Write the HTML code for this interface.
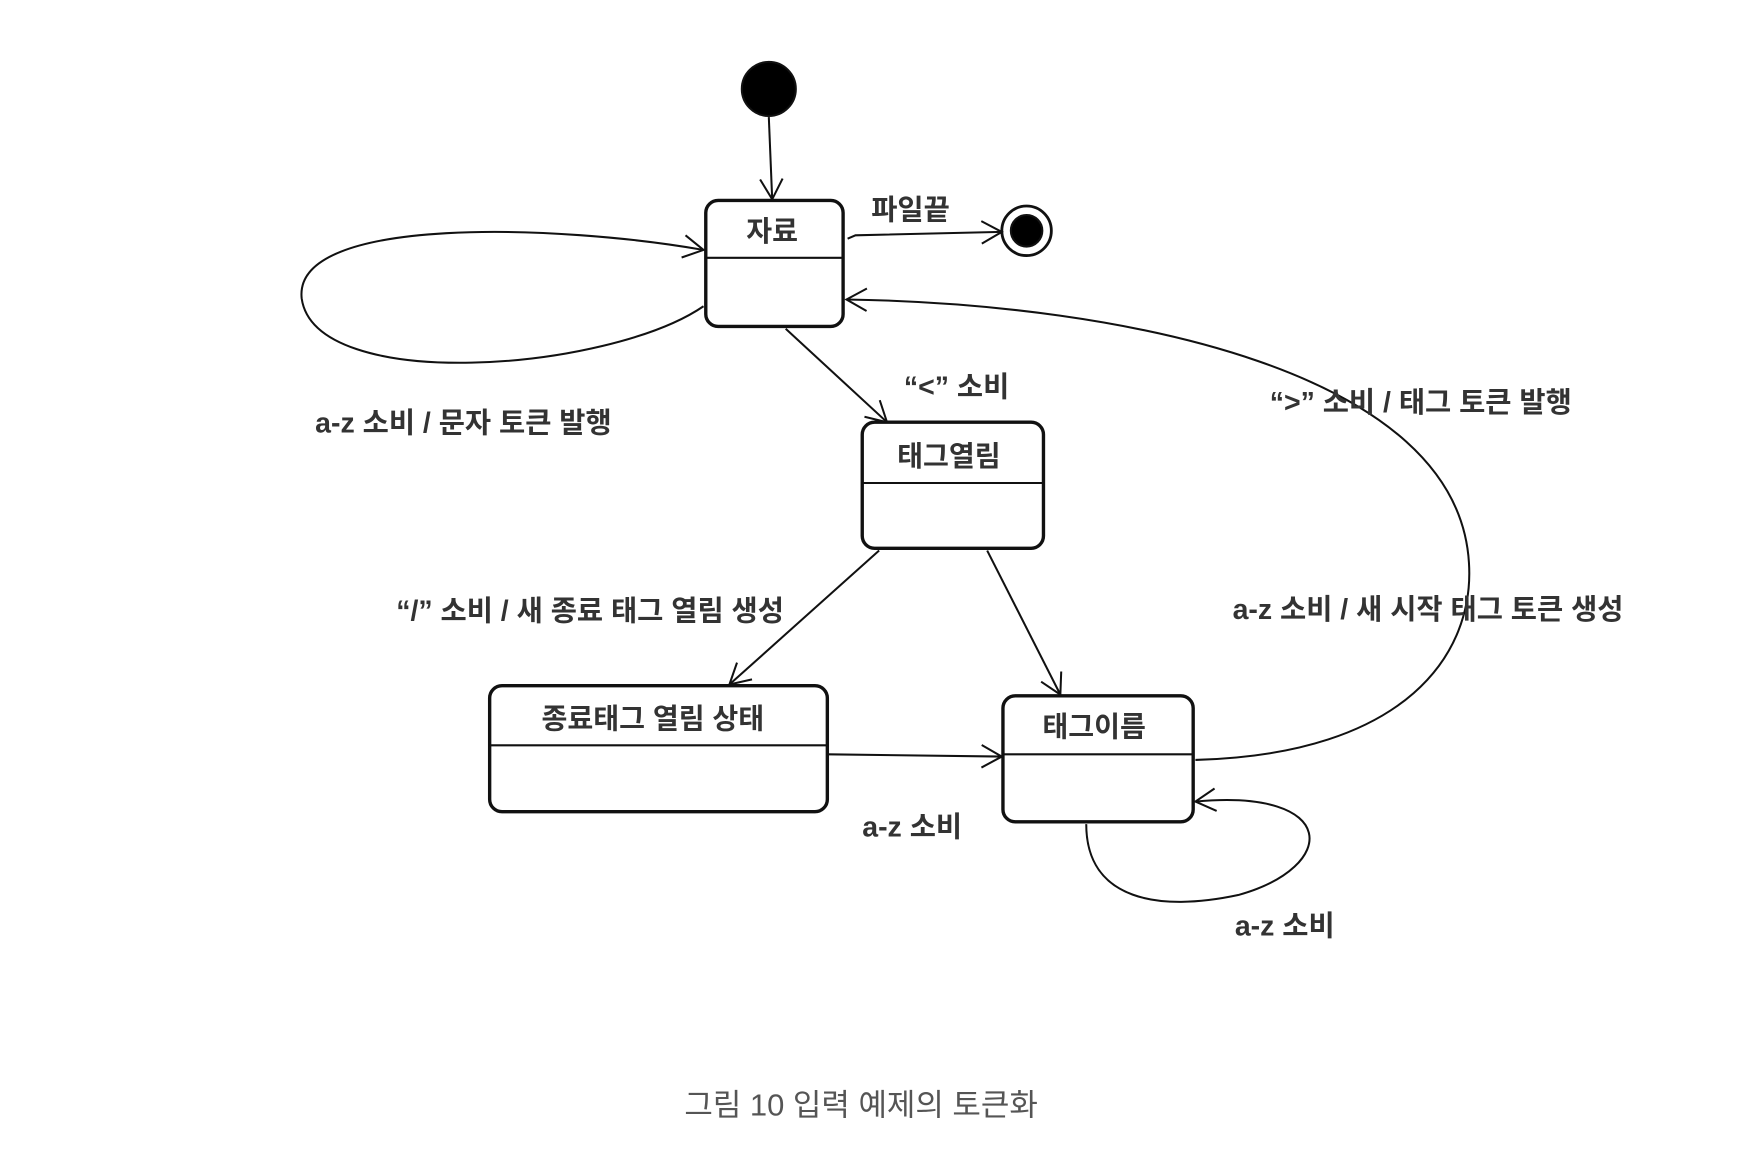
<!DOCTYPE html>
<html><head><meta charset="utf-8"><style>
html,body{margin:0;padding:0;background:#fff;}
svg{display:block}
text{font-family:"Liberation Sans","Noto Sans CJK KR",sans-serif;fill:#333;font-weight:bold;}
</style></head><body>
<svg width="1756" height="1172" viewBox="0 0 1560 1041" preserveAspectRatio="none" xmlns="http://www.w3.org/2000/svg">
<defs>
<marker id="a" markerWidth="24" markerHeight="24" refX="20" refY="12" orient="auto" markerUnits="userSpaceOnUse">
<path d="M2,2 L20,12 L2,22" fill="none" stroke="#111" stroke-width="1.8"/>
</marker>
</defs>
<g fill="none" stroke="#111" stroke-width="1.8">
<circle cx="683" cy="79" r="24" fill="#000"/>
<line x1="683" y1="104" x2="686" y2="177" marker-end="url(#a)"/>
<circle cx="912" cy="205" r="22" fill="#fff" stroke-width="2.5"/>
<circle cx="912" cy="205" r="14" fill="#000"/>
<path d="M753,212 L760,209 L890,206" marker-end="url(#a)"/>
<path d="M625,272 C540,330 280,350 268,265 C260,190 500,200 625,222" marker-end="url(#a)"/>
<line x1="698" y1="292" x2="788" y2="375" marker-end="url(#a)"/>
<line x1="781" y1="489" x2="648" y2="608" marker-end="url(#a)"/>
<line x1="877" y1="489" x2="942" y2="617" marker-end="url(#a)"/>
<line x1="735" y1="670" x2="890" y2="672" marker-end="url(#a)"/>
<path d="M1062,675 C1250,670 1310,580 1305,500 C1295,330 1000,270 752,266" marker-end="url(#a)"/>
<path d="M965,732 C965,800 1030,810 1100,795 C1190,770 1190,700 1062,712" marker-end="url(#a)"/>
</g>
<g fill="#fff" stroke="#111" stroke-width="3">
<rect x="627" y="178" width="122" height="112" rx="11"/>
<rect x="766" y="375" width="161" height="112" rx="11"/>
<rect x="435" y="609" width="300" height="112" rx="11"/>
<rect x="891" y="618" width="169" height="112" rx="11"/>
</g>
<g stroke="#111" stroke-width="1.8">
<line x1="627" y1="229" x2="749" y2="229"/>
<line x1="766" y1="429" x2="927" y2="429"/>
<line x1="435" y1="662" x2="735" y2="662"/>
<line x1="891" y1="670" x2="1060" y2="670"/>
</g>
<g font-size="25" text-anchor="middle">
<text x="686" y="214">자료</text>
<text x="843" y="414">태그열림</text>
<text x="580" y="647">종료태그 열림 상태</text>
<text x="972" y="654">태그이름</text>
</g>
<g font-size="25.3">
<text x="280" y="384">a-z 소비 / 문자 토큰 발행</text>
<text x="774" y="195">파일끝</text>
<text x="803" y="352">“&lt;” 소비</text>
<text x="1128" y="366">“&gt;” 소비 / 태그 토큰 발행</text>
<text x="352" y="551">“/” 소비 / 새 종료 태그 열림 생성</text>
<text x="1095" y="550">a-z 소비 / 새 시작 태그 토큰 생성</text>
<text x="766" y="743">a-z 소비</text>
<text x="1097" y="831">a-z 소비</text>
</g>
<text x="765" y="991" font-size="27.5" text-anchor="middle" style="font-weight:normal;fill:#555">그림 10 입력 예제의 토큰화</text>
</svg>
</body></html>
